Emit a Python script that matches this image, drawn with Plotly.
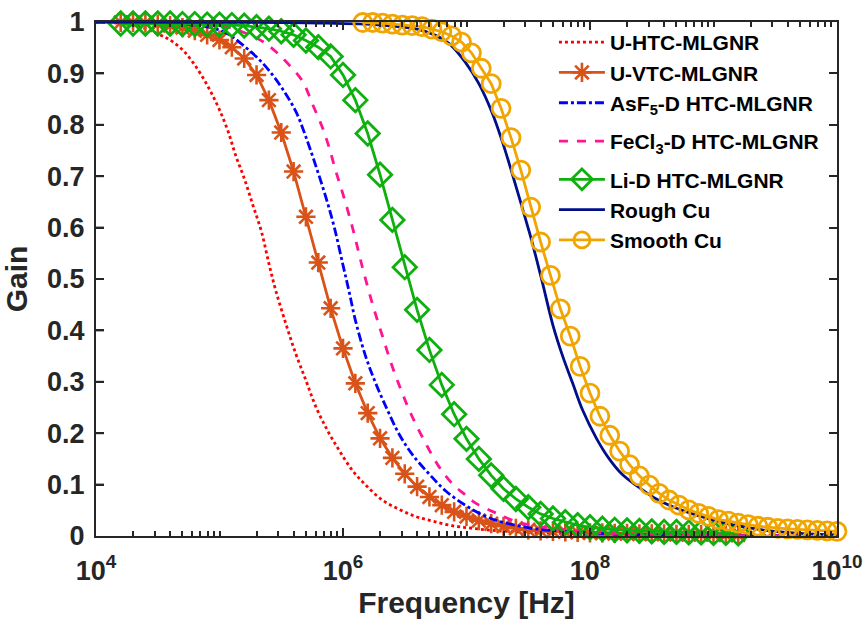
import plotly.graph_objects as go

# ---------------------------------------------------------------
# Gain vs. frequency for MLGNR / Cu interconnects
# frequencies are given as log10(f / Hz)
# ---------------------------------------------------------------

# U-HTC-MLGNR (dotted, no markers)
uhtc_exp = [4.0, 4.2, 4.35, 4.5, 4.6, 4.7, 4.78, 4.86, 4.93, 5.0, 5.07, 5.13,
            5.2, 5.27, 5.34, 5.4, 5.455, 5.536, 5.617, 5.698, 5.779, 5.873,
            5.968, 6.075, 6.184, 6.318, 6.453, 6.588, 6.723, 6.885, 7.047,
            7.21, 7.5, 8.0, 8.5, 9.0, 10.0]
uhtc_gain = [1.0, 0.997, 0.991, 0.977, 0.965, 0.946, 0.923, 0.894, 0.864,
             0.829, 0.787, 0.741, 0.696, 0.644, 0.592, 0.530, 0.478, 0.414,
             0.355, 0.304, 0.252, 0.206, 0.167, 0.128, 0.099, 0.070, 0.052,
             0.038, 0.029, 0.020, 0.015, 0.011, 0.007, 0.004, 0.002, 0.001,
             0.0003]

# sample grid shared by the U-VTC and Li-D curves
marker_exp = [4.2, 4.3, 4.4, 4.5, 4.6, 4.7, 4.8, 4.9, 5.0, 5.1, 5.2, 5.3,
              5.4, 5.5, 5.6, 5.7, 5.8, 5.9, 6.0, 6.1, 6.2, 6.3, 6.4, 6.5,
              6.6, 6.7, 6.8, 6.9, 7.0, 7.1, 7.2, 7.3, 7.4, 7.5, 7.6, 7.7,
              7.8, 7.9, 8.0, 8.1, 8.2, 8.3, 8.4, 8.5, 8.6, 8.7, 8.8, 8.9,
              9.0, 9.1, 9.2]

# U-VTC-MLGNR (solid with asterisks)
uvtc_gain = [0.999, 0.999, 0.998, 0.996, 0.993, 0.989, 0.983, 0.975, 0.965,
             0.951, 0.929, 0.897, 0.848, 0.785, 0.709, 0.621, 0.532, 0.443,
             0.365, 0.297, 0.239, 0.190, 0.152, 0.121, 0.096, 0.076, 0.060,
             0.047, 0.038, 0.030, 0.024, 0.019, 0.015, 0.012, 0.010, 0.009,
             0.008, 0.007, 0.006, 0.006, 0.005, 0.005, 0.004, 0.004, 0.004,
             0.003, 0.003, 0.003, 0.003, 0.002, 0.002]

# AsF5-doped HTC-MLGNR (dash-dot)
asf5_exp = [4.0, 4.4, 4.7, 4.95, 5.08, 5.19, 5.30, 5.40, 5.51, 5.62, 5.70,
            5.78, 5.86, 5.93, 6.00, 6.05, 6.10, 6.18, 6.265, 6.36, 6.45,
            6.56, 6.70, 6.83, 6.99, 7.13, 7.26, 7.53, 7.80, 8.07, 8.5, 9.0,
            10.0]
asf5_gain = [1.0, 0.999, 0.996, 0.988, 0.975, 0.955, 0.932, 0.906, 0.870,
             0.825, 0.776, 0.720, 0.660, 0.600, 0.527, 0.475, 0.420, 0.352,
             0.297, 0.245, 0.200, 0.159, 0.120, 0.088, 0.060, 0.041, 0.029,
             0.015, 0.009, 0.005, 0.002, 0.001, 0.0003]

# FeCl3-doped HTC-MLGNR (dashed)
fecl3_exp = [4.0, 4.5, 4.9, 5.107, 5.23, 5.35, 5.457, 5.565, 5.674, 5.755,
             5.836, 5.89, 5.943, 6.01, 6.078, 6.132, 6.16, 6.238, 6.318,
             6.40, 6.48, 6.561, 6.67, 6.777, 6.88, 6.99, 7.074, 7.236, 7.40,
             7.53, 7.80, 8.1, 8.5, 9.0, 10.0]
fecl3_gain = [1.0, 0.999, 0.995, 0.988, 0.976, 0.962, 0.942, 0.916, 0.884,
              0.839, 0.793, 0.754, 0.709, 0.657, 0.599, 0.547, 0.520, 0.452,
              0.390, 0.329, 0.278, 0.232, 0.180, 0.135, 0.103, 0.080, 0.064,
              0.045, 0.028, 0.021, 0.012, 0.006, 0.003, 0.001, 0.0003]

# Li-doped HTC-MLGNR (solid with diamonds)
lid_gain = [0.997, 0.997, 0.997, 0.997, 0.997, 0.996, 0.996, 0.995, 0.995,
            0.994, 0.993, 0.990, 0.987, 0.982, 0.975, 0.964, 0.951, 0.933,
            0.897, 0.848, 0.783, 0.703, 0.615, 0.523, 0.440, 0.362, 0.294,
            0.237, 0.189, 0.150, 0.118, 0.092, 0.072, 0.056, 0.043, 0.034,
            0.027, 0.021, 0.017, 0.014, 0.012, 0.011, 0.010, 0.009, 0.008,
            0.008, 0.007, 0.007, 0.006, 0.006, 0.005]

# Rough Cu (solid)
rough_exp = [4.0, 5.0, 5.8, 6.3, 6.6, 6.75, 6.86, 6.99, 7.10, 7.21, 7.30,
             7.37, 7.44, 7.51, 7.56, 7.615, 7.70, 7.78, 7.86, 7.94, 8.05,
             8.15, 8.26, 8.40, 8.53, 8.69, 8.87, 9.15, 9.42, 9.70, 10.0]
rough_gain = [1.0, 0.9995, 0.998, 0.994, 0.986, 0.974, 0.958, 0.922, 0.880,
              0.822, 0.760, 0.705, 0.648, 0.590, 0.545, 0.493, 0.410, 0.349,
              0.297, 0.245, 0.191, 0.152, 0.120, 0.094, 0.073, 0.055, 0.040,
              0.022, 0.011, 0.005, 0.002]

# Smooth Cu (solid with circles)
smooth_exp = [6.16, 6.24, 6.32, 6.40, 6.48, 6.56, 6.64, 6.72, 6.80, 6.88,
              6.96, 7.04, 7.12, 7.20, 7.28, 7.36, 7.44, 7.52, 7.60, 7.68,
              7.76, 7.84, 7.92, 8.00, 8.08, 8.16, 8.24, 8.32, 8.40, 8.48,
              8.56, 8.64, 8.72, 8.80, 8.88, 8.96, 9.04, 9.12, 9.20, 9.28,
              9.36, 9.44, 9.52, 9.60, 9.68, 9.76, 9.84, 9.92, 10.00]
smooth_gain = [0.999, 0.999, 0.998, 0.996, 0.994, 0.993, 0.991, 0.986, 0.981,
               0.973, 0.961, 0.940, 0.910, 0.880, 0.832, 0.775, 0.712, 0.640,
               0.572, 0.507, 0.442, 0.389, 0.330, 0.278, 0.233, 0.196, 0.165,
               0.139, 0.117, 0.099, 0.083, 0.070, 0.060, 0.051, 0.044, 0.038,
               0.032, 0.029, 0.025, 0.022, 0.019, 0.017, 0.015, 0.014, 0.013,
               0.012, 0.011, 0.010, 0.009]

x_tick_exp = [4, 6, 8, 10]
y_ticks = [0.0, 0.1, 0.2, 0.3, 0.4, 0.5, 0.6, 0.7, 0.8, 0.9, 1.0]

FONT = "Liberation Sans, Arial, Helvetica, sans-serif"
AXIS_COLOR = "#262626"
PLOT_W = 865 - 96 - 28          # plot-area width in px
TICK_LEN = 8


def hz(exps):
    return [10.0 ** e for e in exps]


fig = go.Figure()

fig.add_trace(go.Scatter(
    x=hz(uhtc_exp), y=uhtc_gain, mode="lines", name="U-HTC-MLGNR",
    legendgroup="g1",
    line=dict(color="#FF0000", width=2.8, dash="dot", shape="spline"),
    cliponaxis=False))

fig.add_trace(go.Scatter(
    x=hz(marker_exp), y=uvtc_gain, mode="lines+markers", name="U-VTC-MLGNR",
    legendgroup="g1",
    line=dict(color="#D95319", width=2.8),
    marker=dict(symbol="asterisk-open", size=16,
                line=dict(color="#D95319", width=2.6)),
    cliponaxis=False))

fig.add_trace(go.Scatter(
    x=hz(asf5_exp), y=asf5_gain, mode="lines",
    name="AsF<sub>5</sub>-D HTC-MLGNR", legendgroup="g1",
    line=dict(color="#0000FF", width=2.8, dash="dashdot", shape="spline"),
    cliponaxis=False))

fig.add_trace(go.Scatter(
    x=hz(fecl3_exp), y=fecl3_gain, mode="lines",
    name="FeCl<sub>3</sub>-D HTC-MLGNR", legendgroup="g2",
    line=dict(color="#FF1493", width=2.8, dash="dash", shape="spline"),
    cliponaxis=False))

fig.add_trace(go.Scatter(
    x=hz(marker_exp), y=lid_gain, mode="lines+markers", name="Li-D HTC-MLGNR",
    legendgroup="g3",
    line=dict(color="#0DB00D", width=2.8),
    marker=dict(symbol="diamond-open", size=18,
                line=dict(color="#0DB00D", width=2.8)),
    cliponaxis=False))

fig.add_trace(go.Scatter(
    x=hz(rough_exp), y=rough_gain, mode="lines", name="Rough Cu",
    legendgroup="g3",
    line=dict(color="#000E8A", width=2.8, shape="spline"),
    cliponaxis=False))

fig.add_trace(go.Scatter(
    x=hz(smooth_exp), y=smooth_gain, mode="lines+markers", name="Smooth Cu",
    legendgroup="g3",
    line=dict(color="#F0A500", width=2.8),
    marker=dict(symbol="circle-open", size=18,
                line=dict(color="#F0A500", width=2.8)),
    cliponaxis=False))

# inward tick marks along the left spine
for v in y_ticks[1:-1]:
    fig.add_shape(type="line", xref="x domain", yref="y",
                  x0=0, x1=TICK_LEN / PLOT_W, y0=v, y1=v,
                  line=dict(color=AXIS_COLOR, width=2), layer="above")

minor_vals = [m * 10.0 ** e for e in range(4, 10) for m in range(2, 11)
              if not (m == 10 and (e + 1) % 2 == 0)]

axis_common = dict(
    showline=True, linewidth=2.2, linecolor=AXIS_COLOR, mirror="allticks",
    ticks="inside", ticklen=TICK_LEN, tickwidth=2, tickcolor=AXIS_COLOR,
    showgrid=False, zeroline=False, automargin=False,
    tickfont=dict(family=FONT, size=27, color=AXIS_COLOR, weight="bold"),
)

fig.update_layout(
    width=865, height=619, autosize=False,
    margin=dict(l=96, r=28, t=22, b=83),
    paper_bgcolor="white", plot_bgcolor="white",
    font=dict(family=FONT, color=AXIS_COLOR),
    xaxis=dict(
        type="log", range=[4, 10],
        tickmode="array",
        tickvals=hz(x_tick_exp),
        ticktext=["10<sup>%d</sup>" % e for e in x_tick_exp],
        ticklabelstandoff=9,
        minor=dict(tickmode="array", tickvals=minor_vals, ticks="inside",
                   ticklen=5, tickwidth=1.6, tickcolor=AXIS_COLOR,
                   showgrid=False),
        title=dict(text="Frequency [Hz]", standoff=2,
                   font=dict(family=FONT, size=30, color=AXIS_COLOR,
                             weight="bold")),
        **axis_common),
    yaxis=dict(
        range=[0, 1], tickmode="array", tickvals=y_ticks,
        ticktext=["%g" % v for v in y_ticks],
        ticklabelstandoff=4,
        title=dict(text="Gain", standoff=10,
                   font=dict(family=FONT, size=30, color=AXIS_COLOR,
                             weight="bold")),
        **axis_common),
    legend=dict(
        x=0.618, y=1.0, xanchor="left", yanchor="top",
        bgcolor="rgba(0,0,0,0)", borderwidth=0, itemwidth=46,
        tracegroupgap=8, traceorder="grouped",
        font=dict(family=FONT, size=21, color="#000000", weight="bold")),
    showlegend=True,
)

fig.write_html("out.html")
